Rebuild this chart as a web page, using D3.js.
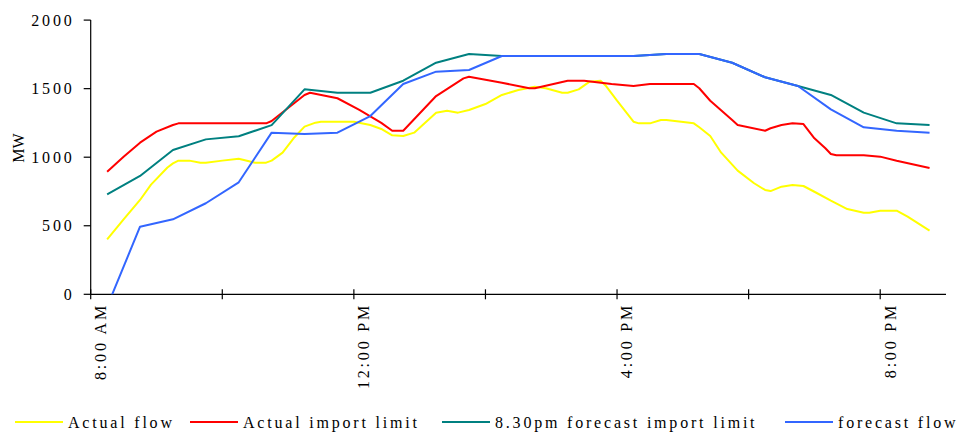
<!DOCTYPE html>
<html>
<head>
<meta charset="utf-8">
<script src="https://cdn.jsdelivr.net/npm/d3@7"></script>
<style>
  html, body { margin: 0; padding: 0; background: #fff; }
  svg text { font-family: "Liberation Serif", "DejaVu Serif", serif; fill: #000; }
</style>
</head>
<body>
<svg id="chart" width="959" height="434"></svg>
<script>
// ---------- DATA ----------
// Half-hourly categories (8:00 AM .. 8:30 PM)
const halfHours = ["8:00","8:30","9:00","9:30","10:00","10:30","11:00","11:30","12:00","12:30",
  "13:00","13:30","14:00","14:30","15:00","15:30","16:00","16:30","17:00","17:30",
  "18:00","18:30","19:00","19:30","20:00","20:30"];

const forecastLimit = [729, 863, 1052, 1130, 1153, 1234, 1495, 1470, 1470, 1558,
  1689, 1753, 1738, 1738, 1738, 1738, 1738, 1753, 1753, 1689,
  1583, 1519, 1454, 1325, 1247, 1235];

const forecastFlow = [-90, 493, 547, 664, 817, 1179, 1169, 1179, 1300, 1534,
  1624, 1636, 1738, 1738, 1738, 1738, 1738, 1753, 1753, 1689,
  1583, 1519, 1349, 1218, 1193, 1179];

// Finer-grained actual series
const actualFlowTimes = ["8:00","8:15","8:30","8:40","8:55","9:00","9:05","9:15","9:25","9:30",
  "9:45","10:00","10:15","10:25","10:30","10:40","10:50","11:00","11:10","11:15",
  "11:45","12:00","12:10","12:20","12:30","12:40","13:00","13:10","13:20","13:30",
  "13:45","14:00","14:15","14:30","14:40","14:55","15:00","15:10","15:20","15:30",
  "15:35","15:45","16:00","16:05","16:15","16:25","16:30","16:55","17:00","17:10",
  "17:20","17:35","17:50","18:00","18:05","18:15","18:25","18:35","18:45","19:00",
  "19:15","19:30","19:35","19:45","20:00","20:10","20:30"];
const actualFlow = [401, 547, 688, 800, 925, 955, 975, 975, 960, 960,
  975, 989, 960, 960, 975, 1033, 1138, 1223, 1252, 1259,
  1259, 1235, 1206, 1160, 1155, 1179, 1325, 1339, 1325, 1344,
  1388, 1454, 1490, 1514, 1503, 1470, 1470, 1495, 1551, 1558,
  1519, 1412, 1259, 1247, 1247, 1271, 1271, 1247, 1218, 1155,
  1033, 902, 810, 761, 753, 785, 797, 790, 748, 683,
  622, 595, 595, 610, 610, 566, 464];

const importLimitTimes = ["8:00","8:15","8:30","8:45","9:00","9:05","10:25","10:30","11:00","11:05",
  "11:30","11:50","12:10","12:20","12:30","12:35","13:00","13:25","13:30","14:00",
  "14:25","14:30","15:00","15:15","15:40","16:00","16:15","16:55","17:00","17:10",
  "17:30","17:35","18:00","18:05","18:15","18:25","18:35","18:45","18:55","19:00",
  "19:05","19:30","19:45","20:00","20:30"];
const importLimit = [894, 1004, 1106, 1186, 1235, 1247, 1247, 1264, 1454, 1470,
  1430, 1345, 1250, 1193, 1193, 1235, 1446, 1575, 1587, 1543,
  1503, 1503, 1558, 1558, 1534, 1519, 1534, 1534, 1503, 1412,
  1271, 1235, 1193, 1211, 1235, 1247, 1242, 1138, 1065, 1023,
  1014, 1014, 1004, 974, 921];

const yTicks = [0, 500, 1000, 1500, 2000];
const xTickLabels = ["8:00 AM", "12:00 PM", "4:00 PM", "8:00 PM"];
const xLabelTimes = ["8:00", "12:00", "16:00", "20:00"];
const seriesNames = ["Actual flow", "Actual import limit", "8.30pm forecast import limit", "forecast flow"];
const seriesColors = ["#FFFF00", "#FF0000", "#008080", "#3366FF"];

(function () {
// ---------- HELPERS ----------
const toMin = s => { const [h, m] = s.split(":").map(Number); return (h - 8) * 60 + m; };

// ---------- LAYOUT ----------
const svg = d3.select("#chart");
const pL = 90.7, pR = 946, pT = 20.1, pB = 294.3;

const x = d3.scaleLinear().domain([-15, 765]).range([pL, pR]);
const y = d3.scaleLinear().domain([0, 2000]).range([pB, pT]);

svg.append("defs").append("clipPath").attr("id", "plot")
  .append("rect").attr("x", pL).attr("y", pT - 5).attr("width", pR - pL).attr("height", pB - pT + 5);

// Axes lines
svg.append("line").attr("x1", pL).attr("x2", pL).attr("y1", pT).attr("y2", pB)
  .attr("stroke", "#000").attr("stroke-width", 1.2);
svg.append("line").attr("x1", pL).attr("x2", pR).attr("y1", pB).attr("y2", pB)
  .attr("stroke", "#000").attr("stroke-width", 1.2);

// Y ticks + labels
yTicks.forEach(v => {
  svg.append("line").attr("x1", pL - 7).attr("x2", pL).attr("y1", y(v)).attr("y2", y(v))
    .attr("stroke", "#000").attr("stroke-width", 1.2);
  svg.append("text").attr("x", 74.5).attr("y", y(v)).attr("dy", "0.35em")
    .attr("text-anchor", "end").attr("font-size", 16).attr("letter-spacing", 2.8)
    .text(v);
});

// X ticks (category boundaries every 2 hours)
d3.range(-15, 766, 120).forEach(m => {
  svg.append("line").attr("x1", x(m)).attr("x2", x(m)).attr("y1", pB - 5).attr("y2", pB + 5)
    .attr("stroke", "#000").attr("stroke-width", 1.2);
});

// X labels (rotated)
xTickLabels.forEach((lab, i) => {
  const cx = x(toMin(xLabelTimes[i])) - 1;
  svg.append("text")
    .attr("transform", `translate(${cx},${303}) rotate(-90)`)
    .attr("text-anchor", "end").attr("font-size", 16).attr("letter-spacing", 2.8)
    .text(lab);
});

// Y-axis title
svg.append("text").attr("transform", "translate(24,148) rotate(-90)")
  .attr("text-anchor", "middle").attr("font-size", 16).text("MW");

// ---------- LINES ----------
const line = d3.line().x(d => x(d[0])).y(d => y(d[1]));
const g = svg.append("g").attr("clip-path", "url(#plot)");

const series = [
  actualFlowTimes.map((t, i) => [toMin(t), actualFlow[i]]),
  importLimitTimes.map((t, i) => [toMin(t), importLimit[i]]),
  halfHours.map((t, i) => [toMin(t), forecastLimit[i]]),
  halfHours.map((t, i) => [toMin(t), forecastFlow[i]])
];
series.forEach((s, i) => {
  g.append("path").datum(s).attr("d", line)
    .attr("fill", "none").attr("stroke", seriesColors[i]).attr("stroke-width", 2)
    .attr("stroke-linejoin", "round");
});

// ---------- LEGEND ----------
const legendLineX = [15, 190, 442, 785];
const legendY = 422;
seriesNames.forEach((name, i) => {
  svg.append("line").attr("x1", legendLineX[i]).attr("x2", legendLineX[i] + 48)
    .attr("y1", legendY).attr("y2", legendY)
    .attr("stroke", seriesColors[i]).attr("stroke-width", 2);
  svg.append("text").attr("x", legendLineX[i] + 53).attr("y", legendY).attr("dy", "0.35em")
    .attr("font-size", 16).attr("letter-spacing", 2.8).text(name);
});
})();
</script>
</body>
</html>
